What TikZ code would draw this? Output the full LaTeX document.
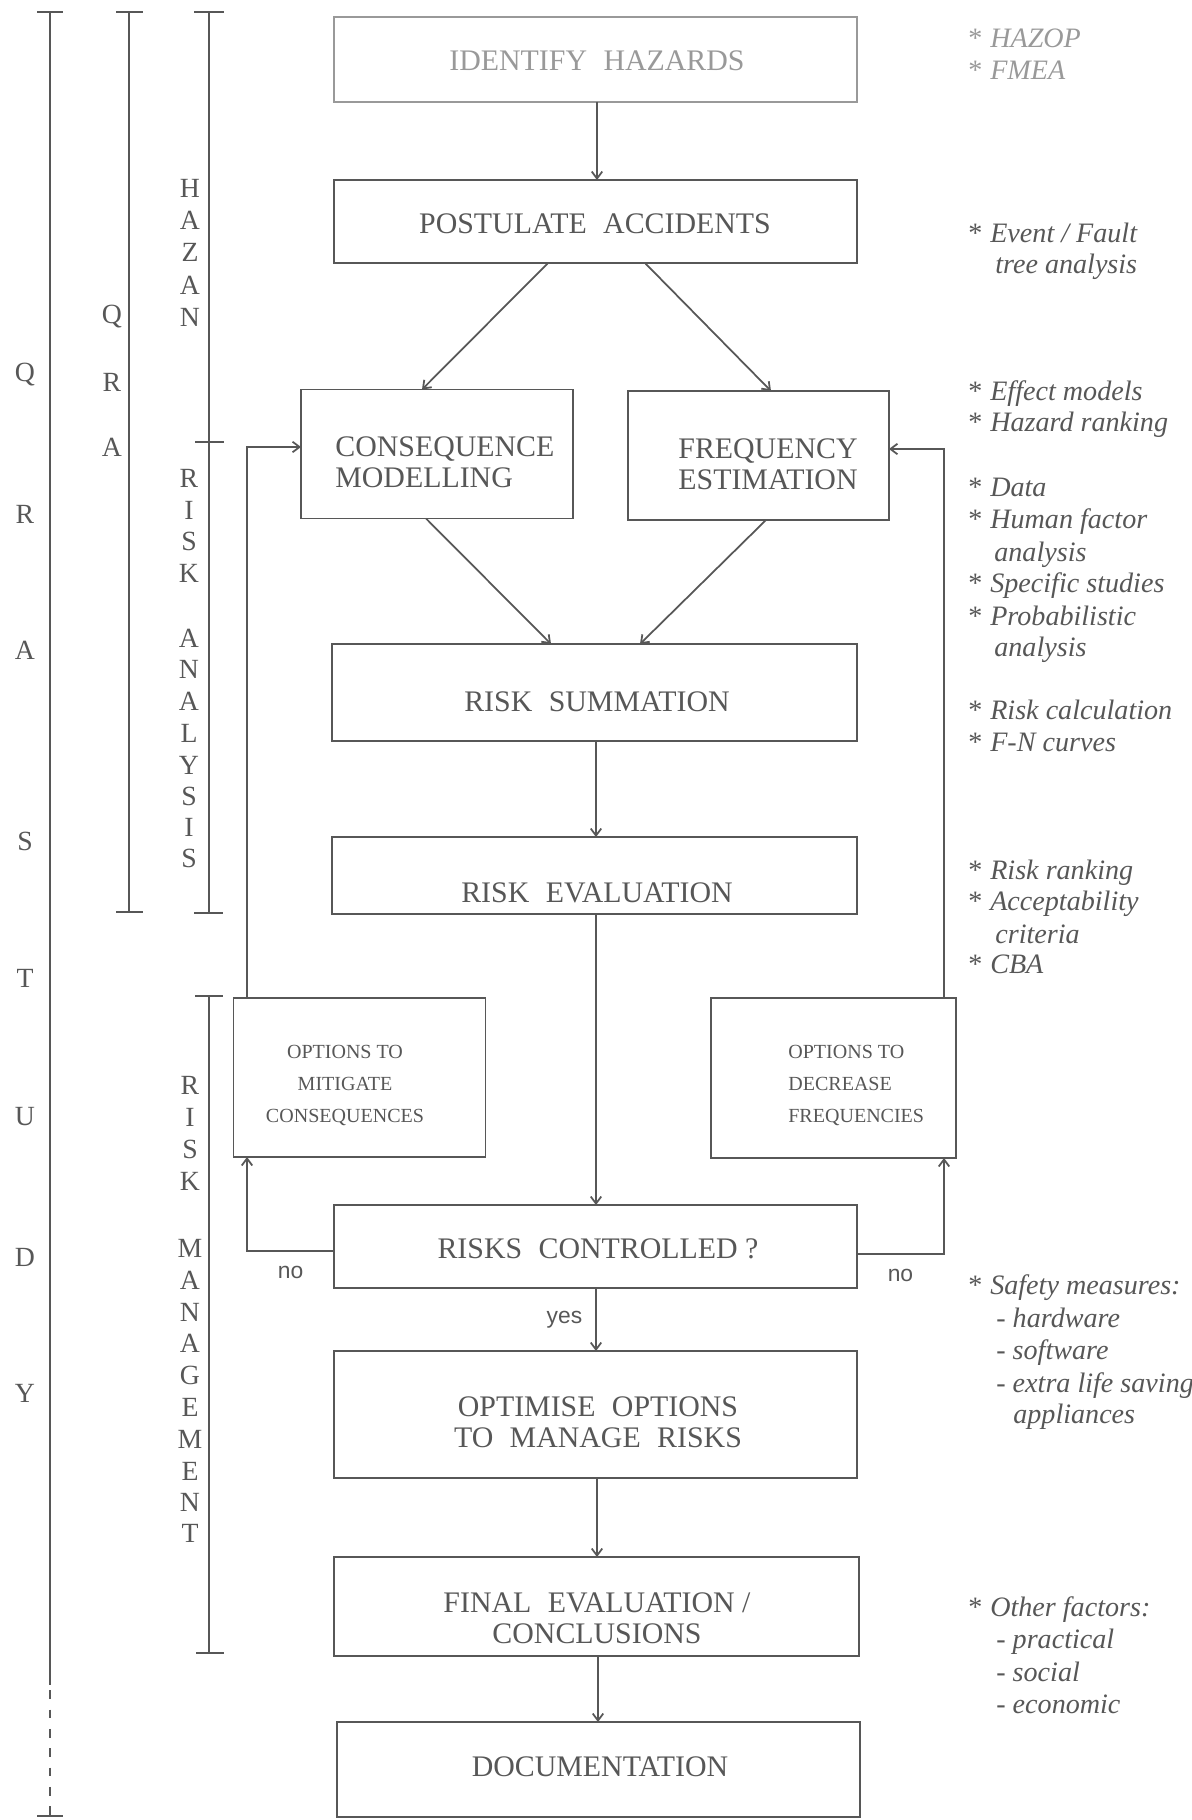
\documentclass[tikz,border=0pt]{standalone}
\usepackage{fontspec}
\setmainfont{Liberation Serif}
\newfontfamily\answerfont{Liberation Sans}
\usetikzlibrary{arrows.meta}

\definecolor{ink}{gray}{0.34}
\definecolor{faint}{gray}{0.6}

% wide gap between words inside the boxes
\newcommand\wsp{\hspace{0.55em}}
% upright asterisk that opens an annotation line
\newcommand\notestar{\makebox[12.5pt][l]{\upshape*}}

\tikzset{
  box/.style={draw=ink, line width=1.1pt, rectangle, inner sep=0pt, outer sep=0pt},
  boxtext/.style={text=ink, font=\fontsize{17}{17.8}\selectfont, inner sep=0pt, align=center},
  smalltext/.style={text=ink, font=\fontsize{11.4}{18.2}\selectfont, inner sep=0pt, align=center},
  arrow/.style={draw=ink, line width=1pt, -{Straight Barb[length=4pt,width=6pt]}},
  bar/.style={draw=ink, line width=1.1pt},
  letter/.style={text=ink, font=\fontsize{15.8}{18}\selectfont, inner sep=0pt},
  note/.style={text=ink, font=\fontsize{16}{18}\selectfont\itshape, anchor=base west, inner sep=0pt},
  answer/.style={text=ink, font=\answerfont\fontsize{13}{15}\selectfont},
}

\begin{document}
\begin{tikzpicture}[x=0.02cm, y=-0.02cm]
\useasboundingbox (0,0) rectangle (1192,1820);

% ---------- process boxes ----------
\node[box, draw=faint, minimum width=10.46cm, minimum height=1.70cm] (ident) at (595.5,59.5) {};
\node[box, minimum width=10.46cm, minimum height=1.66cm] (post)  at (595.5,221.5) {};
\node[box, minimum width=5.44cm,  minimum height=2.58cm] (cons)  at (437,454) {};
\node[box, minimum width=5.22cm,  minimum height=2.58cm] (freq)  at (758.5,455.5) {};
\node[box, minimum width=10.50cm, minimum height=1.94cm] (rsum)  at (594.5,692.5) {};
\node[box, minimum width=10.50cm, minimum height=1.54cm] (reval) at (594.5,875.5) {};
\node[box, minimum width=5.04cm,  minimum height=3.18cm] (mit)   at (359.5,1077.5) {};
\node[box, minimum width=4.90cm,  minimum height=3.20cm] (dec)   at (833.5,1078) {};
\node[box, minimum width=10.46cm, minimum height=1.66cm] (ctrl)  at (595.5,1246.5) {};
\node[box, minimum width=10.46cm, minimum height=2.54cm] (opt)   at (595.5,1414.5) {};
\node[box, minimum width=10.50cm, minimum height=1.98cm] (final) at (596.5,1606.5) {};
\node[box, minimum width=10.46cm, minimum height=1.90cm] (doc)   at (598.5,1769.5) {};

% ---------- box texts ----------
\node[boxtext, text=faint] (ident-t) at (597,61) {IDENTIFY\wsp HAZARDS};
\node[boxtext] (post-t)  at (595,224) {POSTULATE\wsp ACCIDENTS};
\node[boxtext, align=left, anchor=west] (cons-t) at (335,462.5) {CONSEQUENCE\\MODELLING};
\node[boxtext] (freq-t)  at (768,464.5) {FREQUENCY\\ESTIMATION};
\node[boxtext] (rsum-t)  at (597,701.5) {RISK\wsp SUMMATION};
\node[boxtext] (reval-t) at (597,893) {RISK\wsp EVALUATION};
\node[smalltext] (mit-t) at (345,1085) {OPTIONS TO\\MITIGATE\\CONSEQUENCES};
\node[smalltext, align=left, anchor=west] (dec-t) at (788,1085) {OPTIONS TO\\DECREASE\\FREQUENCIES};
\node[boxtext] (ctrl-t)  at (598,1248.5) {RISKS\wsp CONTROLLED ?};
\node[boxtext] (opt-t)   at (598,1422.5) {OPTIMISE\wsp OPTIONS\\TO\wsp MANAGE\wsp RISKS};
\node[boxtext] (final-t) at (597,1618) {FINAL\wsp EVALUATION /\\CONCLUSIONS};
\node[boxtext] (doc-t)   at (600,1767) {DOCUMENTATION};

% ---------- main flow ----------
\draw[arrow] (597,0 |- ident.south) -- (597,0 |- post.north);
\draw[arrow] (548,0 |- post.south) -- (422,0 |- cons.north);
\draw[arrow] (645,0 |- post.south) -- (771,0 |- freq.north);
\draw[arrow] (426,0 |- cons.south) -- (551,0 |- rsum.north);
\draw[arrow] (766,0 |- freq.south) -- (640,0 |- rsum.north);
\draw[arrow] (596,0 |- rsum.south) -- (596,0 |- reval.north);
\draw[arrow] (596,0 |- reval.south) -- (596,0 |- ctrl.north);
\draw[arrow] (596,0 |- ctrl.south) -- node[answer, left=4pt] {yes} (596,0 |- opt.north);
\draw[arrow] (597,0 |- opt.south) -- (597,0 |- final.north);
\draw[arrow] (598,0 |- final.south) -- (598,0 |- doc.north);

% ---------- feedback loops ----------
\draw[arrow] (ctrl.west |- 0,1251) -| node[answer, pos=0.25, below=5pt] {no} (247,0 |- mit.south);
\draw[arrow] (ctrl.east |- 0,1254) -| node[answer, pos=0.25, below=5pt] {no} (944,0 |- dec.south);
\draw[arrow] (247,0 |- mit.north) |- (cons.west |- 0,447);
\draw[arrow] (944,0 |- dec.north) |- (freq.east |- 0,449);

% ---------- scope bars ----------
% QRA STUDY
\draw[bar] (37,12) -- (63,12);
\draw[bar] (50,12) -- (50,1685);
\draw[bar, dash pattern=on 5pt off 6pt, dash phase=-3pt] (50,1685) -- (50,1816);
\draw[bar] (37,1816) -- (63,1816);
% QRA
\draw[bar] (116,12) -- (143,12);
\draw[bar] (129,12) -- (129,912);
\draw[bar] (116,912) -- (143,912);
% HAZAN / RISK ANALYSIS
\draw[bar] (194,12) -- (224,12);
\draw[bar] (209,12) -- (209,913);
\draw[bar] (195,442) -- (224,442);
\draw[bar] (194,913) -- (223,913);
% RISK MANAGEMENT
\draw[bar] (195,996) -- (223,996);
\draw[bar] (209,996) -- (209,1653);
\draw[bar] (196,1653) -- (224,1653);

% ---------- spelled-out bar labels ----------
\foreach \ch/\yy [count=\i] in {Q/375,R/514,A/650,S/841,T/978,U/1117,D/1257,Y/1393}
  \node[letter] (qs\i) at (25,\yy) {\ch};
\foreach \ch/\yy [count=\i] in {Q/317,R/382,A/447}
  \node[letter] (qra\i) at (112,\yy) {\ch};
\foreach \ch/\yy [count=\i] in {H/188,A/220,Z/252,A/285,N/317}
  \node[letter] (hz\i) at (190,\yy) {\ch};
\foreach \ch/\yy [count=\i] in {R/478,I/510,S/541,K/573,A/638,N/669,A/701,L/733,Y/765,S/796,I/827,S/858}
  \node[letter] (ra\i) at (189,\yy) {\ch};
\foreach \ch/\yy [count=\i] in {R/1085,I/1117,S/1149,K/1181,M/1248,A/1280,N/1312,A/1343,G/1375,E/1407,M/1439,E/1471,N/1502,T/1533}
  \node[letter] (rm\i) at (190,\yy) {\ch};

% ---------- annotations ----------
\node[note, text=faint] (hazop) at (968,47) {\notestar HAZOP};
\node[note, text=faint] (fmea)  at (968,79) {\notestar FMEA};
\node[note] (event)    at (968,242) {\notestar Event / Fault};
\node[note] (tree)     at (995,273) {tree analysis};
\node[note] (effect)   at (968,400) {\notestar Effect models};
\node[note] (hazrank)  at (968,431) {\notestar Hazard ranking};
\node[note] (data)     at (968,496) {\notestar Data};
\node[note] (human)    at (968,528) {\notestar Human factor};
\node[note] (human2)   at (994,561) {analysis};
\node[note] (specific) at (968,592) {\notestar Specific studies};
\node[note] (prob)     at (968,625) {\notestar Probabilistic};
\node[note] (prob2)    at (994,656) {analysis};
\node[note] (riskcalc) at (968,719) {\notestar Risk calculation};
\node[note] (fncurve)  at (968,751) {\notestar F-N curves};
\node[note] (riskrank) at (968,879) {\notestar Risk ranking};
\node[note] (accept)   at (968,910) {\notestar Acceptability};
\node[note] (accept2)  at (995,943) {criteria};
\node[note] (cba)      at (968,973) {\notestar CBA};
\node[note] (safety)   at (968,1294) {\notestar Safety measures:};
\node[note] (hw)       at (996,1327) {- hardware};
\node[note] (sw)       at (996,1359) {- software};
\node[note] (extra)    at (996,1392) {- extra life saving};
\node[note] (appl)     at (1013,1423) {appliances};
\node[note] (other)    at (968,1616) {\notestar Other factors:};
\node[note] (prac)     at (996,1648) {- practical};
\node[note] (social)   at (996,1681) {- social};
\node[note] (econ)     at (996,1713) {- economic};
\end{tikzpicture}
\end{document}
